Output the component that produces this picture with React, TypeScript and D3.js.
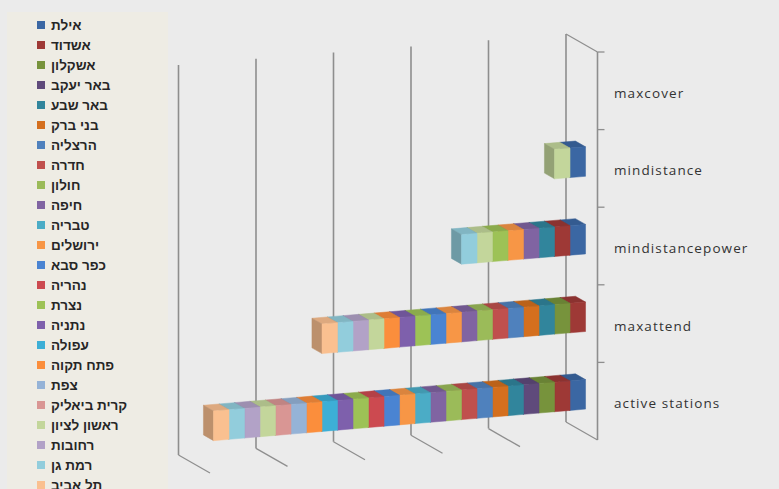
import React from "react";
import * as d3 from "d3";

const stations = [
  "אילת", "אשדוד", "אשקלון", "באר יעקב", "באר שבע", "בני ברק",
  "הרצליה", "חדרה", "חולון", "חיפה", "טבריה", "ירושלים",
  "כפר סבא", "נהריה", "נצרת", "נתניה", "עפולה", "פתח תקוה",
  "צפת", "קרית ביאליק", "ראשון לציון", "רחובות", "רמת גן", "תל אביב",
];

const stationColors = [
  "#3B67A3", "#9E3936", "#77933C", "#5F4A7B", "#31859C", "#D46F1E",
  "#4F81BD", "#C0504D", "#9BBB59", "#8064A2", "#4BACC6", "#F79646",
  "#4A84D2", "#CC4A50", "#9DC256", "#7E60AC", "#3DAFD6", "#FB8E3C",
  "#95B3D7", "#D99694", "#C3D69B", "#B2A2C7", "#92CDDC", "#FAC090",
];

// categories from top to bottom
const categories = ["maxcover", "mindistance", "mindistancepower", "maxattend", "active stations"];

const maxcover =         [0,0,0,0,0,0,0,0,0,0,0,0,0,0,0,0,0,0,0,0,0,0,0,0];
const mindistance =      [1,0,0,0,0,0,0,0,0,0,0,0,0,0,0,0,0,0,0,0,1,0,0,0];
const mindistancepower = [1,1,0,0,1,0,0,0,0,1,0,1,0,0,1,0,0,0,0,0,1,0,1,0];
const maxattend =        [0,1,1,0,1,1,1,1,1,1,0,1,1,0,1,1,0,1,0,0,1,1,1,1];
const activeStations =   [1,1,1,1,1,1,1,1,1,1,1,1,1,1,1,1,1,1,1,1,1,1,1,1];

const gridTicks = [0, 5, 10, 15, 20, 25];

export default function App() {
  const W = 779, H = 489;
  const valueRows = [maxcover, mindistance, mindistancepower, maxattend, activeStations];
  const rows = categories.map((c, i) => {
    const r: any = { category: c };
    stations.forEach((s, j) => (r[s] = valueRows[i][j]));
    return r;
  });
  const stack = d3.stack().keys(stations);
  const series = stack(rows);

  // back-wall projection
  const xBack = d3.scaleLinear().domain([0, 25]).range([566, 178.5]);
  const yTop = d3.scaleLinear().domain([0, 25]).range([34, 65]);
  const yBot = d3.scaleLinear().domain([0, 25]).range([422, 455]);
  const band = d3.scaleBand().domain(categories).range([0, 1]).paddingInner(0).paddingOuter(0);
  const DX = 31.5, DY = 18;
  const P = (v: number, u: number, d: number): [number, number] => {
    const x = xBack(v) + DX * d;
    const y = yTop(v) + u * (yBot(v) - yTop(v)) + DY * d;
    return [x, y];
  };
  const poly = (pts: [number, number][]) => pts.map((p) => p[0].toFixed(2) + "," + p[1].toFixed(2)).join(" ");

  const dB = 0.3, dF = 0.62;
  const bw = band.bandwidth();

  const faces: JSX.Element[] = [];
  categories.forEach((cat, ci) => {
    const u0 = (band(cat) as number) + bw * 0.31;
    const u1 = (band(cat) as number) + bw * 0.69;
    series.forEach((s, si) => {
      const seg = s[ci];
      const v0 = seg[0], v1 = seg[1];
      if (v1 - v0 <= 0) return;
      const base = d3.color(stationColors[si])!;
      const topC = base.darker(0.35).toString();
      const sideC = base.darker(0.8).toString();
      const fC = base.toString();
      const front = [P(v0, u0, dF), P(v1, u0, dF), P(v1, u1, dF), P(v0, u1, dF)];
      const top = [P(v0, u0, dB), P(v1, u0, dB), P(v1, u0, dF), P(v0, u0, dF)];
      const side = [P(v1, u0, dB), P(v1, u0, dF), P(v1, u1, dF), P(v1, u1, dB)];
      faces.push(
        <g key={cat + si}>
          <polygon points={poly(top)} fill={topC} stroke={topC} strokeWidth={0.5} />
          <polygon points={poly(side)} fill={sideC} stroke={sideC} strokeWidth={0.5} />
          <polygon points={poly(front)} fill={fC} stroke={fC} strokeWidth={0.5} />
        </g>
      );
    });
  });

  const gridColor = "#8E8E8E";

  return (
    <svg width={W} height={H} style={{ position: "absolute", left: 0, top: 0 }}>
      <rect x={0} y={0} width={W} height={H} fill="#EBEBEB" />
      {/* legend */}
      <rect x={7} y={12} width={161} height={H - 12} fill="#EEECE4" />
      {stations.map((s, i) => (
        <g key={s}>
          <rect x={37} y={21 + 20 * i} width={8} height={8} fill={stationColors[i]} />
          <text x={51} y={30 + 20 * i} fontFamily="'Liberation Sans', Arial, sans-serif" fontWeight="bold" fontSize={13.5} fill="#262626">
            {s}
          </text>
        </g>
      ))}
      {/* back-wall gridlines and floor lines */}
      {gridTicks.map((t) => {
        const a = P(t, 0, 0), b = P(t, 1, 0), c = P(t, 1, 1);
        return (
          <g key={t}>
            <line x1={a[0]} y1={a[1]} x2={b[0]} y2={b[1]} stroke={gridColor} strokeWidth={1.6} />
            <line x1={b[0]} y1={b[1]} x2={c[0]} y2={c[1]} stroke={gridColor} strokeWidth={1.3} />
          </g>
        );
      })}
      {/* side wall top edge and axis line */}
      {(() => {
        const a = P(0, 0, 0), b = P(0, 0, 1), c = P(0, 1, 1);
        return (
          <g>
            <line x1={a[0]} y1={a[1]} x2={b[0]} y2={b[1]} stroke={gridColor} strokeWidth={1.3} />
            <line x1={b[0]} y1={b[1]} x2={c[0]} y2={c[1]} stroke={gridColor} strokeWidth={1.6} />
          </g>
        );
      })()}
      {categories.map((c) => {
        const p = P(0, band(c) as number, 1);
        return <line key={"t" + c} x1={p[0]} y1={p[1]} x2={p[0] + 7} y2={p[1]} stroke={gridColor} strokeWidth={1.3} />;
      })}
      {faces}
      {categories.map((c) => {
        const p = P(0, (band(c) as number) + bw / 2, 1);
        return (
          <text key={"l" + c} x={614} y={p[1] + 7} fontFamily="'Open Sans', sans-serif" fontSize={13.5} fill="#333333" letterSpacing={1.1}>
            {c}
          </text>
        );
      })}
    </svg>
  );
}
